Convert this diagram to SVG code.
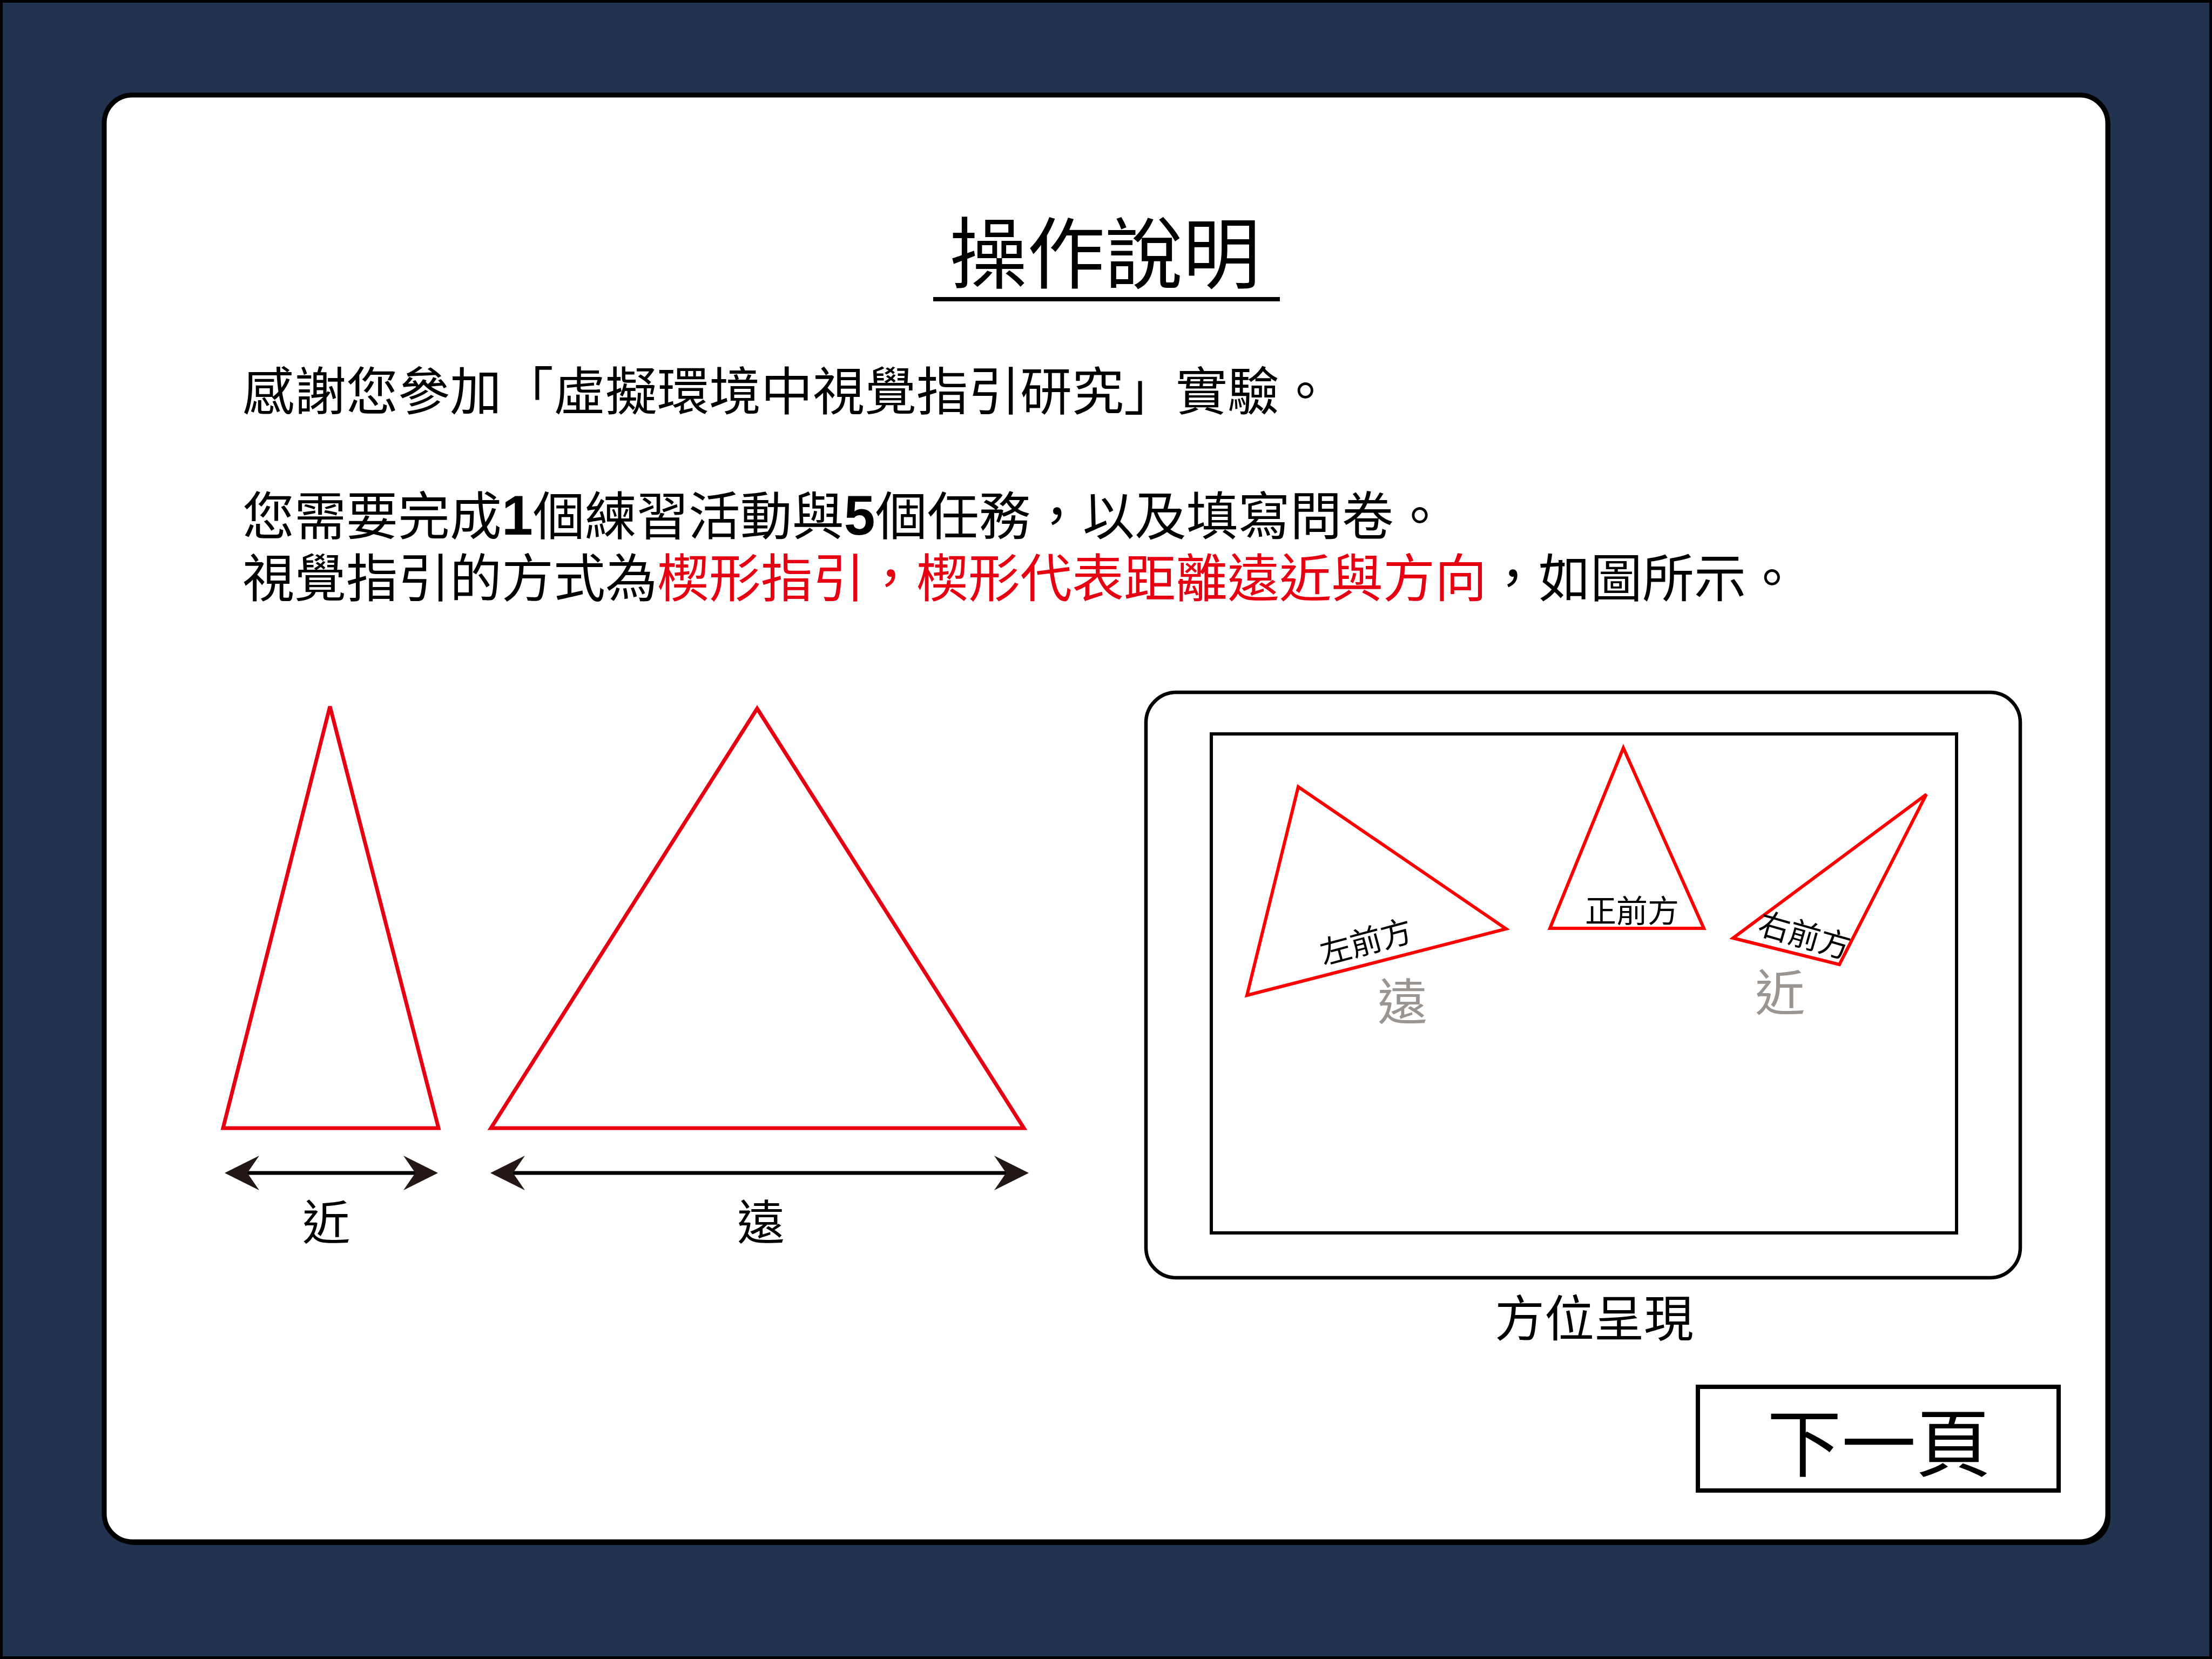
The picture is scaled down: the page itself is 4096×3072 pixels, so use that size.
<svg xmlns="http://www.w3.org/2000/svg" width="4096" height="3072" viewBox="0 0 4096 3072">
<style>
text{font-family:"Noto Sans CJK TC","Noto Sans CJK SC",sans-serif;fill:#000}
.para{font-size:96px}
.num{font-family:"Liberation Sans",Arial,sans-serif;font-weight:bold;font-size:104px}
.red{fill:#E60012}
.tri{fill:none;stroke:#E60012;stroke-width:7;stroke-linejoin:miter}
.tri2{fill:none;stroke:#FF0000;stroke-width:6;stroke-linejoin:miter}
.small{font-size:58px}
.gray{fill:#9A9591;font-size:92px}
.mid{text-anchor:middle}
</style>
<defs>
<marker id="head" markerUnits="userSpaceOnUse" viewBox="0 0 64 64" refX="22" refY="32" markerWidth="64" markerHeight="64" orient="auto-start-reverse">
<path d="M0,0 L64,32 L0,64 L22,32 Z" fill="#231815"/>
</marker>
</defs>
<g id="background">
<rect x="2.5" y="2.5" width="4091" height="3067" fill="#22334F" stroke="#000" stroke-width="5"/>
</g>
<g id="panel">
<rect x="198" y="182" width="3710" height="2679" rx="52" fill="#000"/>
<rect x="193" y="176" width="3710" height="2679" rx="52" fill="#FFF" stroke="#000" stroke-width="9"/>
</g>
<g id="title">
<text class="mid" x="2046" y="523" font-size="144">操作說明</text>
<line x1="1728" y1="554" x2="2370" y2="554" stroke="#000" stroke-width="8"/>
</g>
<g id="intro">
<text class="para" x="449" y="759">感謝您參加「虛擬環境中視覺指引研究」實驗。</text>
<text class="para" x="449" y="990">您需要完成<tspan class="num">1</tspan>個練習活動與<tspan class="num">5</tspan>個任務，以及填寫問卷。</text>
<text class="para" x="449" y="1105">視覺指引的方式為<tspan class="red">楔形指引，楔形代表距離遠近與方向</tspan>，如圖所示。</text>
</g>
<g id="near-triangle">
<polygon class="tri" points="611,1308 812,2089 413,2089"/>
<text class="mid" x="604" y="2295" font-size="88">近</text>
</g>
<g id="far-triangle">
<polygon class="tri" points="1402,1312 1896,2089 909,2089"/>
<text class="mid" x="1409" y="2295" font-size="88">遠</text>
</g>
<g id="connectors">
<line x1="458" y1="2172" x2="769" y2="2172" stroke="#000" stroke-width="7" marker-start="url(#head)" marker-end="url(#head)"/>
<line x1="950" y1="2172" x2="1863" y2="2172" stroke="#000" stroke-width="7" marker-start="url(#head)" marker-end="url(#head)"/>
</g>
<g id="device">
<rect x="2122" y="1282" width="1619" height="1084" rx="56" fill="#FFF" stroke="#000" stroke-width="6.5"/>
<rect x="2243" y="1359" width="1380" height="924" fill="#FFF" stroke="#000" stroke-width="6"/>
<g id="left-front">
<polygon class="tri2" points="2404,1457 2789,1720 2309,1843"/>
<text class="small mid" transform="translate(2529,1743) rotate(-15)" x="0" y="22">左前方</text>
</g>
<g id="front">
<polygon class="tri2" points="3006,1385 3155,1719 2870,1719"/>
<text class="small mid" x="3022" y="1708">正前方</text>
</g>
<g id="right-front">
<polygon class="tri2" points="3567,1471 3406,1786 3209,1737"/>
<text class="small mid" transform="translate(3342,1731) rotate(16)" x="0" y="22">右前方</text>
</g>
<text class="gray mid" x="2597" y="1889">遠</text>
<text class="gray mid" x="3296" y="1872">近</text>
</g>
<g id="device-label">
<text class="mid" x="2952" y="2475" font-size="92">方位呈現</text>
</g>
<g id="next-button">
<rect x="3144" y="2568" width="668" height="192" fill="#FFF" stroke="#000" stroke-width="8"/>
<text class="mid" x="3479" y="2723" font-size="138">下一頁</text>
</g>
</svg>
